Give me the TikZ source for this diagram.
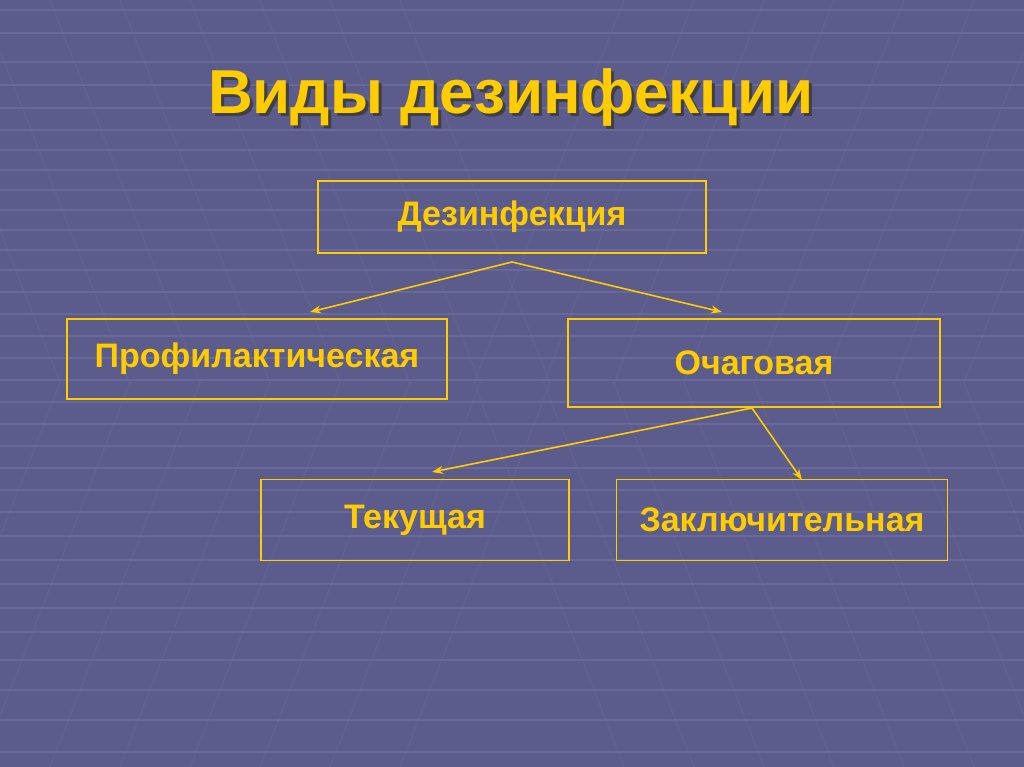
\documentclass[tikz,border=0pt]{standalone}
\usepackage{fontspec}
\setmainfont{Liberation Sans}
\usetikzlibrary{arrows.meta}
\definecolor{bgblue}{HTML}{5B5B8C}
\definecolor{gridblue}{HTML}{7373A6}
\definecolor{gold}{HTML}{FFCC00}
\newcommand{\shadowtext}[1]{\rlap{\hspace{3pt}\raisebox{-3pt}{\color{black!75}#1}}#1}
\begin{document}
\begin{tikzpicture}[x=1pt,y=-1pt,
	box/.style={draw=gold,line width=1.4pt,text=gold,font=\bfseries\fontsize{34}{40}\selectfont,inner sep=0pt},
	link/.style={draw=gold,line width=1.6pt,-{Stealth[length=11pt,width=8pt]}}]
	
	% background with tiles
	\fill[bgblue] (0,0) rectangle (1024,767);
	\useasboundingbox (0,0) rectangle (1024,767);
	\foreach \y in {10,33,62,85,108,130,150,170,190,210,230,250,270,292,314,336,358,380,402,424,446,468,490,512,536,560,584,608,632,660,690,720,752}
		\draw[gridblue,line width=1.5pt,opacity=.55] (0,\y) -- (1024,\y);
	\foreach \x in {-160,-90,-20,50,120,190,260,330,400}
		\draw[gridblue,line width=2pt,opacity=.18] (\x,0) -- (\x+150,383) -- (\x,767);
	\foreach \x in {624,694,764,834,904,974,1044,1114,1184}
		\draw[gridblue,line width=2pt,opacity=.18] (\x,0) -- (\x-150,383) -- (\x,767);
	
	% title
	\node[text=gold,font=\bfseries\fontsize{62}{70}\selectfont] (title) at (511,99) {\shadowtext{Виды дезинфекции}};
	
	% boxes
	\node[box,minimum width=388pt,minimum height=72pt] (dez) at (512,217) {Дезинфекция};
	\node[box,minimum width=380pt,minimum height=80pt] (prof) at (257,359) {Профилактическая};
	\node[box,minimum width=372pt,minimum height=88pt] (och) at (754,363) {Очаговая};
	\node[box,minimum width=308pt,minimum height=81pt] (tek) at (415,520) {Текущая};
	\node[box,minimum width=331pt,minimum height=81pt] (zakl) at (782,520) {Заключительная};
	
	% arrows
	\coordinate (dezfork) at (512,262);
	\coordinate (ochfork) at (752,408);
	\coordinate (proftip) at (310,312);
	\coordinate (ochtip) at (722,312);
	\coordinate (tektip) at (432,472);
	\coordinate (zakltip) at (802,480);
	\draw[link] (dezfork) -- (proftip);
	\draw[link] (dezfork) -- (ochtip);
	\draw[link] (ochfork) -- (tektip);
	\draw[link] (ochfork) -- (zakltip);
\end{tikzpicture}
\end{document}
